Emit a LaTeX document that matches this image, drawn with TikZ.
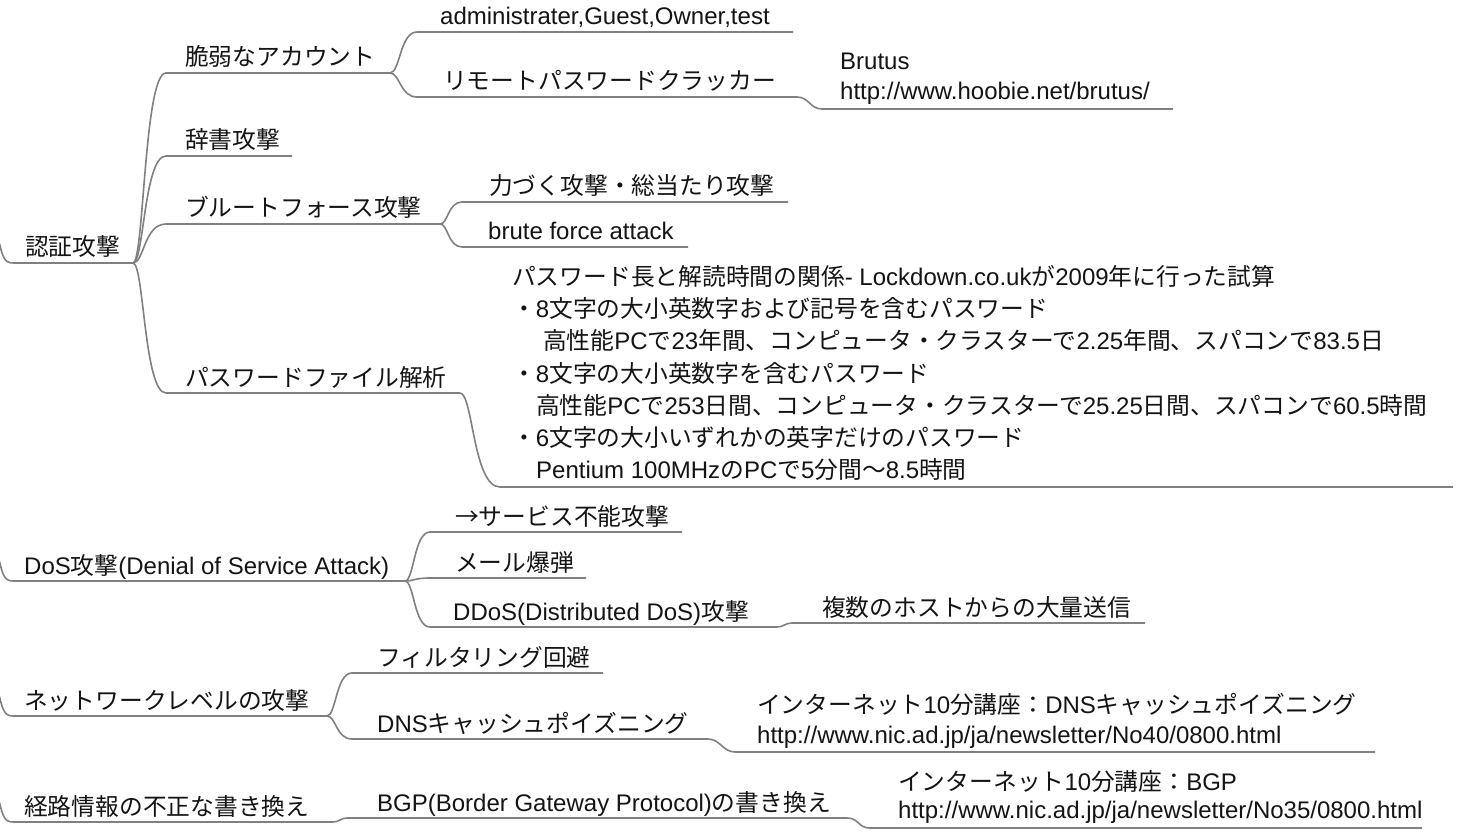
\documentclass[tikz,border=0pt]{standalone}
\usepackage{fontspec}
\setmainfont{Liberation Sans}
\newfontfamily\cjkfont[Scale=0.99]{Noto Sans CJK JP}
\XeTeXinterchartokenstate=1
\newXeTeXintercharclass\cjkcls
\newcount\cc
\def\setrange#1#2#3{\cc=#1 \loop \XeTeXcharclass\cc=#3 \ifnum\cc<#2 \advance\cc by 1 \repeat}
\setrange{"0000}{"00FF}{0}
\setrange{"2190}{"21FF}{\cjkcls}
\setrange{"3000}{"30FF}{\cjkcls}
\setrange{"4E00}{"9FFF}{\cjkcls}
\setrange{"FF00}{"FFEF}{\cjkcls}
\XeTeXinterchartoks 0 \cjkcls = {\cjkfont}
\XeTeXinterchartoks 4095 \cjkcls = {\cjkfont}
\XeTeXinterchartoks \cjkcls 0 = {\rmfamily}
\XeTeXinterchartoks \cjkcls 4095 = {\rmfamily}
\tikzset{
  txt/.style={anchor=base west, inner sep=0pt, text=black!92, font=\fontsize{24}{28}\selectfont},
  ln/.style={draw=black!50, line width=1.6pt},
}
\begin{document}
\begin{tikzpicture}[x=1pt,y=-1pt]
\fill[white] (0,0) rectangle (1457,834);
\useasboundingbox (0,0) rectangle (1457,834);
% ---------- root 1
\coordinate (R1a) at (-2,237); \coordinate (R1s) at (14,263); \coordinate (R1e) at (133,263);
\node[txt] (R1) at (25,256) {認証攻撃};
\draw[ln] (R1a) .. controls (3,260) and (5,263) .. (R1s) -- (R1e);
% level 1
\coordinate (A1s) at (166,73);  \coordinate (A1e) at (390,73);
\coordinate (A2s) at (166,156); \coordinate (A2e) at (292,156);
\coordinate (A3s) at (166,224); \coordinate (A3e) at (440,224);
\coordinate (A4s) at (166,393); \coordinate (A4e) at (460,393);
\node[txt] (A1) at (185,66) {脆弱なアカウント};
\node[txt] (A2) at (185,149) {辞書攻撃};
\node[txt] (A3) at (185,217) {ブルートフォース攻撃};
\node[txt] (A4) at (185,386) {パスワードファイル解析};
\foreach \c in {A1,A2,A3,A4}
  \draw[ln] (R1e) .. controls +(11,0) and +(-22,0) .. (\c s) -- (\c e);
% level 2 under A1
\coordinate (B1s) at (417,32); \coordinate (B1e) at (793,32);
\coordinate (B2s) at (417,97); \coordinate (B2e) at (797,97);
\node[txt] (B1) at (440,25) {administrater,Guest,Owner,test};
\node[txt] (B2) at (443,90) {リモートパスワードクラッカー};
\draw[ln] (A1e) .. controls +(10,0) and +(-17,0) .. (B1s) -- (B1e);
\draw[ln] (A1e) .. controls +(10,0) and +(-17,0) .. (B2s) -- (B2e);
\coordinate (C1s) at (822,109); \coordinate (C1e) at (1173,109);
\node[txt] (C1a) at (840,70) {Brutus};
\node[txt] (C1b) at (840,100) {http://www.hoobie.net/brutus/};
\draw[ln] (B2e) .. controls +(12,0) and +(-12,0) .. (C1s) -- (C1e);
% level 2 under A3
\coordinate (B3s) at (462,202); \coordinate (B3e) at (788,202);
\coordinate (B4s) at (462,247); \coordinate (B4e) at (688,247);
\node[txt] (B3) at (489,195) {力づく攻撃・総当たり攻撃};
\node[txt] (B4) at (488,240) {brute force attack};
\draw[ln] (A3e) .. controls +(8,0) and +(-14,0) .. (B3s) -- (B3e);
\draw[ln] (A3e) .. controls +(8,0) and +(-14,0) .. (B4s) -- (B4e);
% password block under A4
\coordinate (P0s) at (500,487); \coordinate (P0e) at (1453,487);
\draw[ln] (A4e) .. controls +(13,0) and +(-27,0) .. (P0s) -- (P0e);
\node[txt] (P1) at (512,286) {パスワード長と解読時間の関係- Lockdown.co.ukが2009年に行った試算};
\node[txt] (P2) at (512,318) {・8文字の大小英数字および記号を含むパスワード};
\node[txt] (P3) at (543,350) {高性能PCで23年間、コンピュータ・クラスターで2.25年間、スパコンで83.5日};
\node[txt] (P4) at (512,382) {・8文字の大小英数字を含むパスワード};
\node[txt] (P5) at (536,414) {高性能PCで253日間、コンピュータ・クラスターで25.25日間、スパコンで60.5時間};
\node[txt] (P6) at (512,446) {・6文字の大小いずれかの英字だけのパスワード};
\node[txt] (P7) at (536,478) {Pentium 100MHzのPCで5分間〜8.5時間};
% ---------- root 2
\coordinate (R2a) at (-2,555); \coordinate (R2s) at (14,581); \coordinate (R2e) at (405,581);
\node[txt] (R2) at (24,574) {DoS攻撃(Denial of Service Attack)};
\draw[ln] (R2a) .. controls (3,578) and (5,581) .. (R2s) -- (R2e);
\coordinate (D1s) at (430,532); \coordinate (D1e) at (682,532);
\coordinate (D2s) at (430,578); \coordinate (D2e) at (586,578);
\coordinate (D3s) at (430,627); \coordinate (D3e) at (777,627);
\node[txt] (D1) at (455,525) {→サービス不能攻撃};
\node[txt] (D2) at (455,571) {メール爆弾};
\node[txt] (D3) at (453,620) {DDoS(Distributed DoS)攻撃};
\foreach \c in {D1,D2,D3}
  \draw[ln] (R2e) .. controls +(9,0) and +(-16,0) .. (\c s) -- (\c e);
\coordinate (D4s) at (792,623); \coordinate (D4e) at (1145,623);
\node[txt] (D4) at (822,616) {複数のホストからの大量送信};
\draw[ln] (D3e) .. controls +(7,0) and +(-7,0) .. (D4s) -- (D4e);
% ---------- root 3
\coordinate (R3a) at (-2,690); \coordinate (R3s) at (14,716); \coordinate (R3e) at (327,716);
\node[txt] (R3) at (24,709) {ネットワークレベルの攻撃};
\draw[ln] (R3a) .. controls (3,713) and (5,716) .. (R3s) -- (R3e);
\coordinate (E1s) at (352,673); \coordinate (E1e) at (603,673);
\coordinate (E2s) at (352,739); \coordinate (E2e) at (708,739);
\node[txt] (E1) at (377,666) {フィルタリング回避};
\node[txt] (E2) at (377,732) {DNSキャッシュポイズニング};
\draw[ln] (R3e) .. controls +(9,0) and +(-16,0) .. (E1s) -- (E1e);
\draw[ln] (R3e) .. controls +(9,0) and +(-16,0) .. (E2s) -- (E2e);
\coordinate (E3s) at (735,752); \coordinate (E3e) at (1375,752);
\node[txt] (E3a) at (757,713) {インターネット10分講座：DNSキャッシュポイズニング};
\node[txt] (E3b) at (757,743) {http://www.nic.ad.jp/ja/newsletter/No40/0800.html};
\draw[ln] (E2e) .. controls +(12,0) and +(-12,0) .. (E3s) -- (E3e);
% ---------- root 4
\coordinate (R4a) at (-2,796); \coordinate (R4s) at (14,822); \coordinate (R4e) at (333,822);
\node[txt] (R4) at (24,815) {経路情報の不正な書き換え};
\draw[ln] (R4a) .. controls (3,819) and (5,822) .. (R4s) -- (R4e);
\coordinate (F1s) at (347,818); \coordinate (F1e) at (847,818);
\node[txt] (F1) at (377,811) {BGP(Border Gateway Protocol)の書き換え};
\draw[ln] (R4e) .. controls +(7,0) and +(-7,0) .. (F1s) -- (F1e);
\coordinate (F2s) at (870,828); \coordinate (F2e) at (1422,828);
\node[txt] (F2a) at (898,790) {インターネット10分講座：BGP};
\node[txt] (F2b) at (898,818) {http://www.nic.ad.jp/ja/newsletter/No35/0800.html};
\draw[ln] (F1e) .. controls +(12,0) and +(-12,0) .. (F2s) -- (F2e);
\end{tikzpicture}
\end{document}
